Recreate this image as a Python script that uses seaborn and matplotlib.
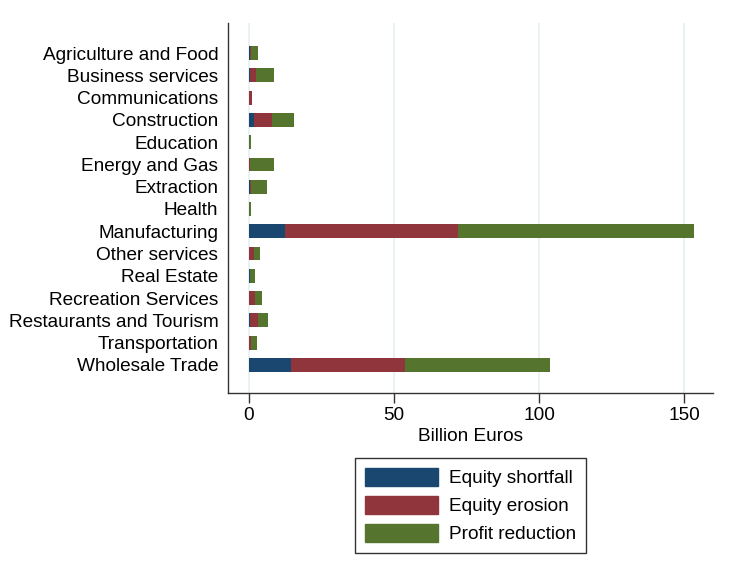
import matplotlib
matplotlib.use("Agg")
import matplotlib.pyplot as plt
import matplotlib.patches as mpatches
import numpy as np
import pandas as pd
import seaborn as sns

sectors = [
    "Agriculture and Food", "Business services", "Communications", "Construction",
    "Education", "Energy and Gas", "Extraction", "Health", "Manufacturing",
    "Other services", "Real Estate", "Recreation Services",
    "Restaurants and Tourism", "Transportation", "Wholesale Trade",
]
# billion euros
equity_shortfall = [0.4, 0.4, 0.0, 1.7, 0.0, 0.0, 0.4, 0.0, 12.4, 0.2, 0.4, 0.2, 0.3, 0.0, 14.5]
equity_erosion = [0.4, 2.2, 1.0, 6.2, 0.1, 0.3, 0.4, 0.0, 59.6, 1.5, 0.1, 1.8, 2.8, 0.7, 39.3]
profit_reduction = [2.4, 6.0, 0.1, 7.6, 0.5, 8.3, 5.4, 0.6, 81.4, 2.1, 1.5, 2.4, 3.4, 2.1, 50.0]

series_names = ["Equity shortfall", "Equity erosion", "Profit reduction"]
series_colors = ["#1a476f", "#90353b", "#55752f"]

df = pd.DataFrame({
    "sector": sectors,
    "shortfall": equity_shortfall,
    "erosion": equity_erosion,
    "profit": profit_reduction,
})
df["cum1"] = df["shortfall"]
df["cum2"] = df["cum1"] + df["erosion"]
df["cum3"] = df["cum2"] + df["profit"]

sns.set_style("white")
plt.rcParams["font.family"] = ["Liberation Sans", "DejaVu Sans"]
plt.rcParams["text.color"] = "black"
plt.rcParams["axes.labelcolor"] = "black"
plt.rcParams["xtick.color"] = "black"
plt.rcParams["ytick.color"] = "black"

fs = 13.7

fig = plt.figure(figsize=(7.34, 5.78), dpi=100)
ax = fig.add_axes([0.3106, 0.3201, 0.6608, 0.6401])

# stacked bars: draw cumulative totals back to front
for col, color in zip(["cum3", "cum2", "cum1"], series_colors[::-1]):
    sns.barplot(data=df, x=col, y="sector", order=sectors, color=color,
                orient="h", width=0.62, saturation=1, ax=ax, linewidth=0)

ax.set_xlim(-7.2, 160)
ax.set_ylim(14 + 1.26, -1.35)
ax.set_xticks([0, 50, 100, 150])
ax.xaxis.grid(True, color="#e6eff1", linewidth=1.2)
ax.set_axisbelow(True)
for s in ["top", "right"]:
    ax.spines[s].set_visible(False)
for s in ["left", "bottom"]:
    ax.spines[s].set_color("#333333")
    ax.spines[s].set_linewidth(1.0)
ax.tick_params(axis="x", length=7, width=1, color="#333333", labelsize=fs, pad=3,
               bottom=True)
ax.tick_params(axis="y", length=0, labelsize=fs, pad=7)
ax.set_ylabel("")
ax.set_xlabel("Billion Euros", fontsize=fs, labelpad=3)

handles = [mpatches.Patch(color=c, label=n) for n, c in zip(series_names, series_colors)]
leg = ax.legend(handles=handles, loc="upper center", bbox_to_anchor=(0.5, -0.1757),
                borderaxespad=0, frameon=True, fancybox=False, edgecolor="black",
                fontsize=fs, handlelength=3.85, handleheight=1.1, handletextpad=0.6,
                labelspacing=0.45, borderpad=0.5)
leg.get_frame().set_linewidth(1.0)

fig.savefig("out.png", dpi=100, facecolor="white")
